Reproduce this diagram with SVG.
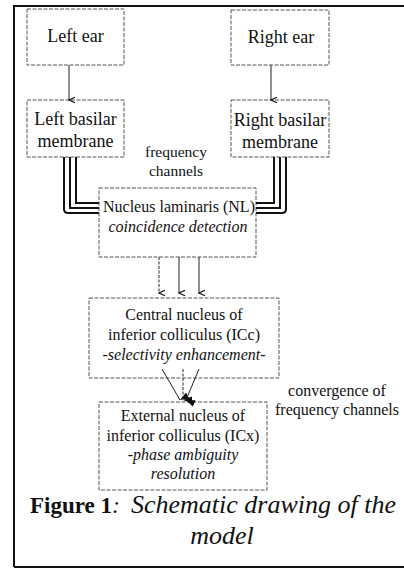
<svg xmlns="http://www.w3.org/2000/svg" width="404" height="570" viewBox="0 0 404 570">
<defs>
<style>
text{font-family:"Liberation Serif","Times New Roman",serif;fill:#111;text-anchor:middle}
.t18{font-size:18px}
.t16{font-size:16px}
.it{font-style:italic}
.box{fill:#fff;stroke:#555;stroke-width:1;stroke-dasharray:4 1.5}
.arr{fill:none;stroke:#222;stroke-width:1}
.ch{fill:none;stroke:#111;stroke-width:2}
</style>
<marker id="v" markerWidth="8" markerHeight="8" refX="4" refY="7" orient="auto" markerUnits="userSpaceOnUse" viewBox="0 0 8 8">
<path d="M1.2,1 L4,7 L6.8,1" fill="none" stroke="#111" stroke-width="1.2"/>
</marker>
<marker id="tri" markerWidth="8" markerHeight="10" refX="4" refY="9" orient="auto" markerUnits="userSpaceOnUse" viewBox="0 0 8 10">
<path d="M0.5,0 L4,9 L7.5,0 Z" fill="#111"/>
</marker>
</defs>
<rect width="404" height="570" fill="#fff"/>
<g id="frame" fill="none" stroke="#111" stroke-width="2">
<path d="M14,567 L14,6 L404,6"/>
<path d="M14,567 L404,567"/>
</g>
<g id="left-ear">
<rect class="box" x="27" y="9" width="97" height="56"/>
<text class="t18" x="75.5" y="42">Left ear</text>
</g>
<g id="right-ear">
<rect class="box" x="231" y="10" width="98" height="55"/>
<text class="t18" x="281" y="43">Right ear</text>
</g>
<g id="left-basilar">
<rect class="box" x="27" y="100" width="97" height="57"/>
<text class="t18" x="75.5" y="125">Left basilar</text>
<text class="t18" x="75.5" y="147">membrane</text>
</g>
<g id="right-basilar">
<rect class="box" x="231" y="100" width="98" height="57"/>
<text class="t18" x="280" y="126">Right basilar</text>
<text class="t18" x="280" y="148">membrane</text>
</g>
<g id="label-frequency">
<text x="176" y="157" style="font-size:15.5px">frequency</text>
<text x="176" y="176" style="font-size:15.5px">channels</text>
</g>
<g id="nl">
<rect class="box" x="99" y="188" width="157" height="69"/>
<text class="t16" x="179" y="211.5">Nucleus laminaris (NL)</text>
<text class="t16 it" x="178" y="232">coincidence detection</text>
</g>
<g id="icc">
<rect class="box" x="89" y="298" width="190" height="80"/>
<text class="t16" x="184" y="320">Central nucleus of</text>
<text class="t16" x="184" y="340">inferior colliculus (ICc)</text>
<text class="t16 it" x="184" y="360">-selectivity enhancement-</text>
</g>
<g id="label-convergence">
<text class="t16" x="337" y="396">convergence of</text>
<text class="t16" x="337" y="415">frequency channels</text>
</g>
<g id="icx">
<rect class="box" x="99" y="402" width="168" height="88"/>
<text class="t16" x="183" y="421">External nucleus of</text>
<text class="t16" x="183" y="441">inferior colliculus (ICx)</text>
<text class="t16 it" x="183" y="460">-phase ambiguity</text>
<text class="t16 it" x="183" y="479">resolution</text>
</g>
<g id="caption">
<text x="30" y="513" style="text-anchor:start;font-size:23px;font-weight:bold">Figure 1<tspan style="font-weight:normal;font-style:italic;font-size:24px">:</tspan></text>
<text x="131" y="513" class="it" style="text-anchor:start;font-size:26px">Schematic drawing of the</text>
<text x="222" y="544" class="it" style="font-size:26px">model</text>
</g>
<g id="connectors">
<line class="arr" x1="69" y1="65" x2="69" y2="100" marker-end="url(#v)"/>
<line class="arr" x1="271" y1="65" x2="271" y2="100" marker-end="url(#v)"/>
<path class="ch" d="M76,157 L76,203 L99,203"/>
<path class="ch" d="M70,157 L70,208 L99,208"/>
<path class="ch" d="M64,157 L64,209 Q64,213 68,213 L99,213"/>
<path class="ch" d="M274,157 L274,203 L256,203"/>
<path class="ch" d="M280,157 L280,208 L256,208"/>
<path class="ch" d="M286,157 L286,209 Q286,213 282,213 L256,213"/>
<line class="arr" x1="159" y1="257" x2="159" y2="293" stroke-dasharray="3 1.5" marker-end="url(#v)"/>
<line class="arr" x1="179" y1="257" x2="179" y2="293" stroke-width="1.5" marker-end="url(#v)"/>
<line class="arr" x1="199" y1="257" x2="199" y2="293" marker-end="url(#v)"/>
<line class="arr" x1="162" y1="369" x2="180" y2="400" stroke-width="1.3" marker-end="url(#tri)"/>
<line class="arr" x1="183" y1="369" x2="183" y2="400" stroke-dasharray="3 1.5" marker-end="url(#tri)"/>
<line class="arr" x1="199" y1="369" x2="186" y2="400" stroke-width="1.3" marker-end="url(#tri)"/>
</g>
</svg>
